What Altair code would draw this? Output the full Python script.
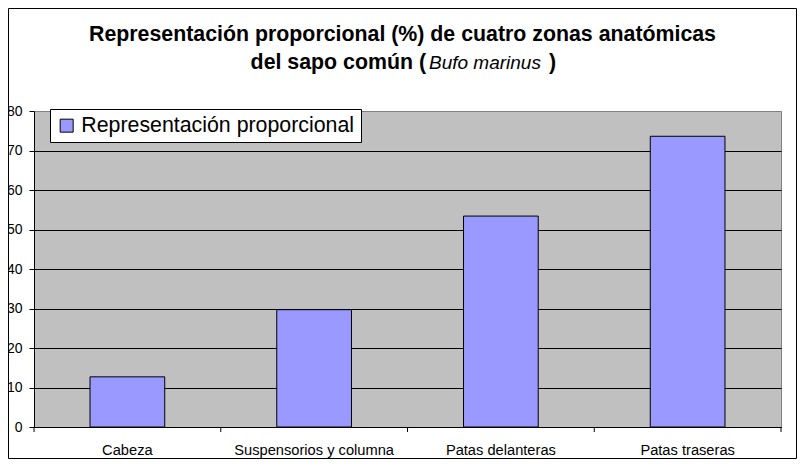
import altair as alt
import pandas as pd

categories = ["Cabeza", "Suspensorios y columna", "Patas delanteras", "Patas traseras"]
values = [12.7, 29.7, 53.4, 73.6]
series_name = "Representación proporcional"
y_ticks = [0, 10, 20, 30, 40, 50, 60, 70, 80]
title_line1 = ["Representación proporcional (%) de cuatro zonas anatómicas"]
title_line2 = ["del sapo común (", "Bufo marinus", ")"]

FONT = "Liberation Sans"

df = pd.DataFrame({"zona": categories, "valor": values, "serie": [series_name] * len(categories)})

xscale = alt.Scale(paddingInner=0.6, paddingOuter=0.3)

bars = alt.Chart(df).mark_bar(stroke="black", strokeWidth=1, opacity=1).encode(
    x=alt.X(
        "zona:N", sort=categories, scale=xscale,
        axis=alt.Axis(title=None, labelAngle=0, ticks=False, labelPadding=15,
                      labelFontSize=14.67, grid=False, domainColor="black",
                      labelColor="black", labelFont=FONT, labelLimit=300),
    ),
    y=alt.Y(
        "valor:Q",
        scale=alt.Scale(domain=[0, 80], nice=False),
        axis=alt.Axis(title=None, values=y_ticks, tickSize=5, labelPadding=7, labelFontSize=14,
                      grid=True,
                      gridColor={"condition": {"test": "datum.value === 80", "value": "#808080"}, "value": "black"},
                      gridWidth=1, gridOpacity=1, domainColor="black", tickColor="black",
                      labelColor="black", labelFont=FONT),
    ),
    color=alt.Color(
        "serie:N",
        scale=alt.Scale(domain=[series_name], range=["#9999FF"]),
        legend=alt.Legend(title=None, orient="none", legendX=16, legendY=-2, symbolType="square",
                          symbolSize=169, symbolStrokeColor="black", symbolStrokeWidth=1,
                          symbolOpacity=1, labelFontSize=21.33, labelFont=FONT, labelColor="black",
                          labelOffset=4, labelLimit=400, padding=6, strokeColor="black",
                          fillColor="white"),
    ),
)

# category-boundary tick marks under the x axis (Excel style)
xticks = alt.Chart(df).mark_rule(color="black", strokeWidth=1, xOffset=-56.0).encode(
    x=alt.X("zona:N", sort=categories, scale=xscale, bandPosition=0),
    y=alt.value(316), y2=alt.value(321),
)
xtick_end = alt.Chart(pd.DataFrame({"b": [0]})).mark_rule(color="black", strokeWidth=1).encode(
    x=alt.value(747), y=alt.value(316), y2=alt.value(321)
)

border = alt.Chart(pd.DataFrame({"b": [0]})).mark_rect(fillOpacity=0, stroke="black", strokeWidth=1).encode(
    x=alt.value(-25.5), x2=alt.value(762.5), y=alt.value(-102.5), y2=alt.value(347.5)
)

t1 = alt.Chart(pd.DataFrame({"t": title_line1})).mark_text(
    font=FONT, fontSize=21.33, fontWeight="bold", align="center", baseline="alphabetic", color="black"
).encode(x=alt.value(368.5), y=alt.value(-70), text="t:N")

t2a = alt.Chart(pd.DataFrame({"t": [title_line2[0]]})).mark_text(
    font=FONT, fontSize=21.33, fontWeight="bold", align="right", baseline="alphabetic", color="black"
).encode(x=alt.value(392), y=alt.value(-42), text="t:N")

t2b = alt.Chart(pd.DataFrame({"t": [title_line2[1]]})).mark_text(
    font=FONT, fontSize=19, fontStyle="italic", align="left", baseline="alphabetic", color="black"
).encode(x=alt.value(395), y=alt.value(-42), text="t:N")

t2c = alt.Chart(pd.DataFrame({"t": [title_line2[2]]})).mark_text(
    font=FONT, fontSize=21.33, fontWeight="bold", align="left", baseline="alphabetic", color="black"
).encode(x=alt.value(515), y=alt.value(-42), text="t:N")

chart = alt.layer(border, bars, xticks, xtick_end, t1, t2a, t2b, t2c).properties(
    width=747, height=316,
    padding={"left": 26, "top": 103, "right": 16, "bottom": 32},
    autosize=alt.AutoSizeParams(type="none"),
).configure(background="white").configure_view(fill="#C0C0C0", stroke="#808080")

chart.save("out.html", embed_options={"renderer": "svg", "actions": False})
